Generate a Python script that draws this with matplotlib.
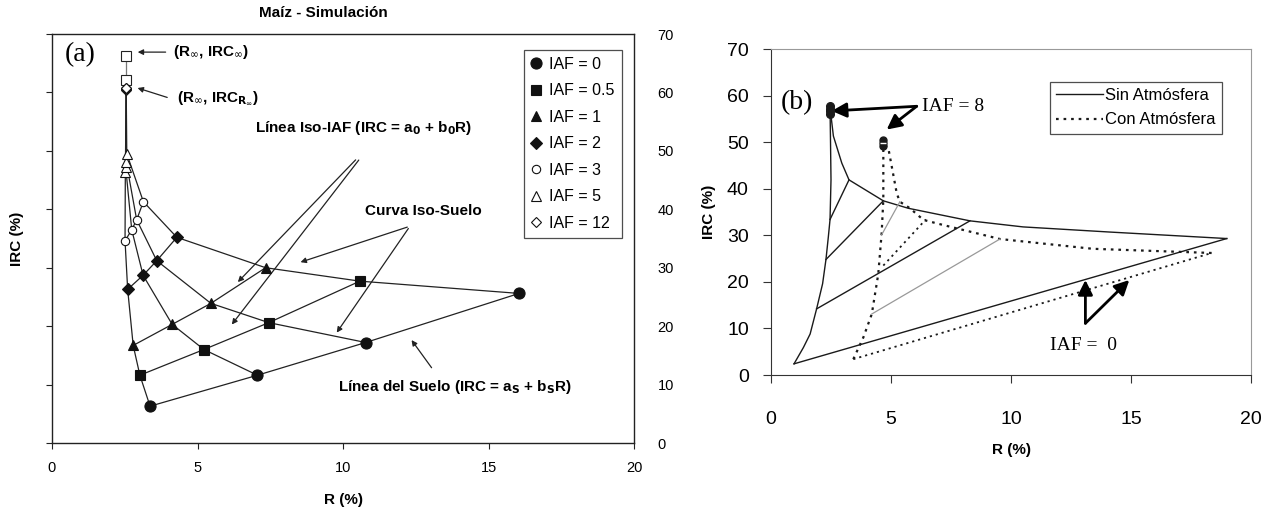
import matplotlib
matplotlib.use('Agg')
import matplotlib.pyplot as plt
from matplotlib.lines import Line2D

plt.rcParams['font.family'] = ['Liberation Sans', 'DejaVu Sans']
SERIF = ['Liberation Serif', 'DejaVu Serif']

# ---------------- Panel (a) data: rows = IAF, columns = soils (dark -> bright)
iaf_labels = ['IAF = 0', 'IAF = 0.5', 'IAF = 1', 'IAF = 2', 'IAF = 3', 'IAF = 5', 'IAF = 12']
r_a = [
    [3.37, 7.06, 10.78, 16.05],
    [3.02, 5.22, 7.45, 10.58],
    [2.79, 4.13, 5.46, 7.34],
    [2.60, 3.13, 3.60, 4.29],
    [2.51, 2.74, 2.91, 3.14],
    [2.52, 2.53, 2.55, 2.57],
    [2.55, 2.55, 2.55, 2.55],
]
irc_a = [
    [6.3, 11.6, 17.2, 25.6],
    [11.6, 16.0, 20.6, 27.7],
    [16.7, 20.3, 23.9, 30.0],
    [26.3, 28.7, 31.2, 35.2],
    [34.6, 36.5, 38.2, 41.3],
    [46.4, 47.3, 48.1, 49.5],
    [60.5, 60.6, 60.7, 60.8],
]
r_inf = [2.55, 2.55]
irc_inf = [66.2, 62.1]

markers_a = ['o', 's', '^', 'D', 'o', '^', 'D']
filled_a = [True, True, True, True, False, False, False]
msize_a = [8, 6.5, 7.5, 6, 6, 7, 5.5]

# ---------------- Panel (b) data
sin_dark_r = [0.96, 1.35, 1.63, 1.90, 2.15, 2.29, 2.39, 2.46, 2.50, 2.48, 2.46]
sin_dark_irc = [2.4, 5.9, 8.8, 14.2, 19.6, 24.8, 29.7, 33.4, 41.9, 50.0, 57.4]
sin_bright_r = [18.99, 14.1, 10.5, 8.29, 5.72, 4.68, 3.25, 2.95, 2.60, 2.46]
sin_bright_irc = [29.3, 30.7, 31.8, 33.1, 35.8, 37.4, 41.9, 45.5, 51.3, 57.4]
sin_iaf_r0 = [0.96, 1.90, 2.29, 2.46]
sin_iaf_irc0 = [2.4, 14.2, 24.8, 33.4]
sin_iaf_r1 = [18.99, 8.29, 4.68, 3.25]
sin_iaf_irc1 = [29.3, 33.1, 37.4, 41.9]

con_dark_r = [3.43, 3.85, 4.20, 4.47, 4.61, 4.68, 4.68, 4.68]
con_dark_irc = [3.4, 8.1, 13.1, 21.7, 30.4, 37.6, 47.6, 50.0]
con_bright_r = [18.36, 13.4, 9.54, 7.18, 6.35, 5.79, 5.37, 5.24, 4.90, 4.68]
con_bright_irc = [26.2, 27.1, 29.2, 32.2, 33.3, 35.8, 37.2, 39.0, 48.4, 50.0]
con_iaf_r0 = [3.43, 4.20, 4.68, 4.60]
con_iaf_irc0 = [3.4, 13.1, 23.5, 30.0]
con_iaf_r1 = [18.36, 9.54, 6.45, 5.37]
con_iaf_irc1 = [26.2, 29.2, 33.4, 37.2]
con_iaf_gray = [False, True, False, True]

iaf8_sin_r = [2.46, 2.46, 2.46, 2.46]
iaf8_sin_irc = [56.0, 56.6, 57.2, 57.8]
iaf8_con_r = [4.68, 4.68, 4.68]
iaf8_con_irc = [49.1, 49.8, 50.5]

xticks = [0, 5, 10, 15, 20]
yticks = [0, 10, 20, 30, 40, 50, 60, 70]

W, H = 1274, 511
fig = plt.figure(figsize=(W / 100, H / 100), dpi=100)

# ================= Panel (a)
ax1 = fig.add_axes([52 / W, 1 - 443 / H, 582 / W, 409 / H])
ax1.set_xlim(0, 20)
ax1.set_ylim(0, 70)
ax1.set_xticks(xticks)
ax1.set_yticks(yticks)
ax1.tick_params(axis='x', direction='out', length=4, pad=9, labelsize=10.5, color='#222222')
ax1.tick_params(axis='y', left=True, right=False, labelleft=False, labelright=True,
                direction='out', length=4, pad=13, labelsize=10.5, color='#222222')
for s in ax1.spines.values():
    s.set_color('#222222')
    s.set_linewidth(1.0)

n_soil = len(r_a[0])
# iso-soil curves
for j in range(n_soil):
    ax1.plot([row[j] for row in r_a], [row[j] for row in irc_a], color='#222222', lw=0.9, zorder=2)
# iso-IAF lines
for i in range(len(r_a)):
    ax1.plot(r_a[i], irc_a[i], color='#222222', lw=0.9, zorder=2)
# R-infinity points
ax1.plot(r_inf, irc_inf, color='#777777', lw=0.9, zorder=2)
ax1.plot(r_inf, irc_inf, ls='none', marker='s', ms=6.5, mfc='white', mec='#222222', mew=0.8, zorder=3)

for i in range(len(r_a)):
    ax1.plot(r_a[i], irc_a[i], ls='none', marker=markers_a[i], ms=msize_a[i],
             mfc='#111111' if filled_a[i] else 'white', mec='#111111', mew=0.8,
             zorder=4, label=iaf_labels[i])

leg1 = ax1.legend(loc='upper right', bbox_to_anchor=(0.979, 0.962), fontsize=11.5,
                  handlelength=0.6, handletextpad=0.5, labelspacing=0.72, borderpad=0.45,
                  frameon=True, fancybox=False, edgecolor='#222222', numpoints=1,
                  borderaxespad=0)
leg1.get_frame().set_linewidth(0.9)

ax1.set_xlabel('R (%)', fontsize=11, fontweight='bold', labelpad=13)
ax1.set_ylabel('IRC (%)', fontsize=11, fontweight='bold', labelpad=16)
ax1.text(0.96, 66.4, '(a)', fontsize=20, family=SERIF, ha='center', va='center')
fig.text(323 / W, 1 - 13 / H, 'Maíz - Simulación', fontsize=11, fontweight='bold',
         ha='center', va='center')

thin = dict(arrowstyle='-|>', color='#222222', lw=0.9, mutation_scale=8)
ann = dict(fontsize=11, fontweight='bold', va='center')
ax1.annotate('', xy=(2.85, 66.9), xytext=(4.0, 66.9), arrowprops=thin)
ax1.text(4.16, 66.9, r'(R$_{\infty}$, IRC$_{\infty}$)', **ann)
ax1.annotate('', xy=(2.85, 60.9), xytext=(4.05, 59.0), arrowprops=thin)
ax1.text(4.3, 59.0, r'(R$_{\infty}$, IRC$_{\mathbf{R}_{\infty}}$)', **ann)

ax1.text(6.98, 53.9, r'Línea Iso-IAF (IRC = a$_{\mathbf{0}}$ + b$_{\mathbf{0}}$R)', **ann)
ax1.annotate('', xy=(6.32, 27.2), xytext=(10.5, 48.8), arrowprops=thin)
ax1.annotate('', xy=(6.12, 19.9), xytext=(10.6, 48.8), arrowprops=thin)

ax1.text(10.76, 39.7, 'Curva Iso-Suelo', **ann)
ax1.annotate('', xy=(8.45, 30.8), xytext=(12.3, 37.1), arrowprops=thin)
ax1.annotate('', xy=(9.73, 18.5), xytext=(12.3, 37.1), arrowprops=thin)

ax1.text(9.83, 9.6, r'Línea del Suelo (IRC = a$_{\mathbf{S}}$ + b$_{\mathbf{S}}$R)', **ann)
ax1.annotate('', xy=(12.3, 18.0), xytext=(13.1, 12.5), arrowprops=thin)

# ================= Panel (b)
ax2 = fig.add_axes([771 / W, 1 - 375 / H, 480 / W, 326 / H])
ax2.set_xlim(0, 20)
ax2.set_ylim(0, 70)
ax2.set_xticks(xticks)
ax2.set_yticks(yticks)
ax2.tick_params(axis='x', direction='out', length=6, pad=20, labelsize=14, color='#333333')
ax2.tick_params(axis='y', direction='out', length=6, pad=10, labelsize=14, color='#333333')
ax2.spines['left'].set_color('#333333')
ax2.spines['bottom'].set_color('#333333')
ax2.spines['top'].set_color('#999999')
ax2.spines['right'].set_color('#999999')

k = '#1a1a1a'
ax2.plot(sin_dark_r, sin_dark_irc, color=k, lw=1.0)
ax2.plot(sin_bright_r, sin_bright_irc, color=k, lw=1.0)
for i in range(len(sin_iaf_r0)):
    ax2.plot([sin_iaf_r0[i], sin_iaf_r1[i]], [sin_iaf_irc0[i], sin_iaf_irc1[i]], color=k, lw=1.0)

dot = (0, (1.2, 2.2))
ax2.plot(con_dark_r, con_dark_irc, color=k, lw=1.6, ls=dot)
ax2.plot(con_bright_r, con_bright_irc, color=k, lw=1.6, ls=dot)
for i in range(len(con_iaf_r0)):
    if con_iaf_gray[i]:
        ax2.plot([con_iaf_r0[i], con_iaf_r1[i]], [con_iaf_irc0[i], con_iaf_irc1[i]],
                 color='#999999', lw=0.9)
    else:
        ax2.plot([con_iaf_r0[i], con_iaf_r1[i]], [con_iaf_irc0[i], con_iaf_irc1[i]],
                 color=k, lw=1.3, ls=dot)

ax2.plot(iaf8_sin_r, iaf8_sin_irc, ls='none', marker='o', ms=5.5, mfc=k, mec=k, zorder=5)
ax2.plot(iaf8_con_r, iaf8_con_irc, ls='none', marker='o', ms=5, mfc=k, mec=k, zorder=5)
ax2.plot([iaf8_con_r[0]], [iaf8_con_irc[1]], ls='none', marker='_', ms=4, mec='white', mew=1, zorder=6)

handles = [Line2D([], [], color=k, lw=1.0), Line2D([], [], color=k, lw=1.6, ls=dot)]
leg2 = ax2.legend(handles, ['Sin Atmósfera', 'Con Atmósfera'], loc='upper right',
                  bbox_to_anchor=(0.939, 0.90), fontsize=12, handlelength=2.8,
                  handletextpad=0.1, labelspacing=0.55, borderpad=0.4, frameon=True,
                  fancybox=False, edgecolor='#222222', borderaxespad=0)
leg2.get_frame().set_linewidth(0.9)

ax2.set_xlabel('R (%)', fontsize=11, fontweight='bold', labelpad=11)
ax2.set_ylabel('IRC (%)', fontsize=11, fontweight='bold', labelpad=8)
ax2.text(1.1, 58.5, '(b)', fontsize=20, family=SERIF, ha='center', va='center')

thick = dict(arrowstyle='-|>', color='black', lw=2.0, mutation_scale=22, shrinkA=0, shrinkB=0)
ax2.text(6.3, 57.7, 'IAF = 8', fontsize=14, family=SERIF, va='center')
ax2.annotate('', xy=(2.53, 56.7), xytext=(6.07, 57.7), arrowprops=thick)
ax2.annotate('', xy=(4.82, 52.7), xytext=(6.07, 57.7), arrowprops=thick)

ax2.text(13.0, 6.3, 'IAF =  0', fontsize=14, family=SERIF, ha='center', va='center')
ax2.annotate('', xy=(13.1, 20.4), xytext=(13.1, 11.1), arrowprops=thick)
ax2.annotate('', xy=(14.93, 20.4), xytext=(13.1, 11.1), arrowprops=thick)

fig.savefig('out.png', dpi=100)
